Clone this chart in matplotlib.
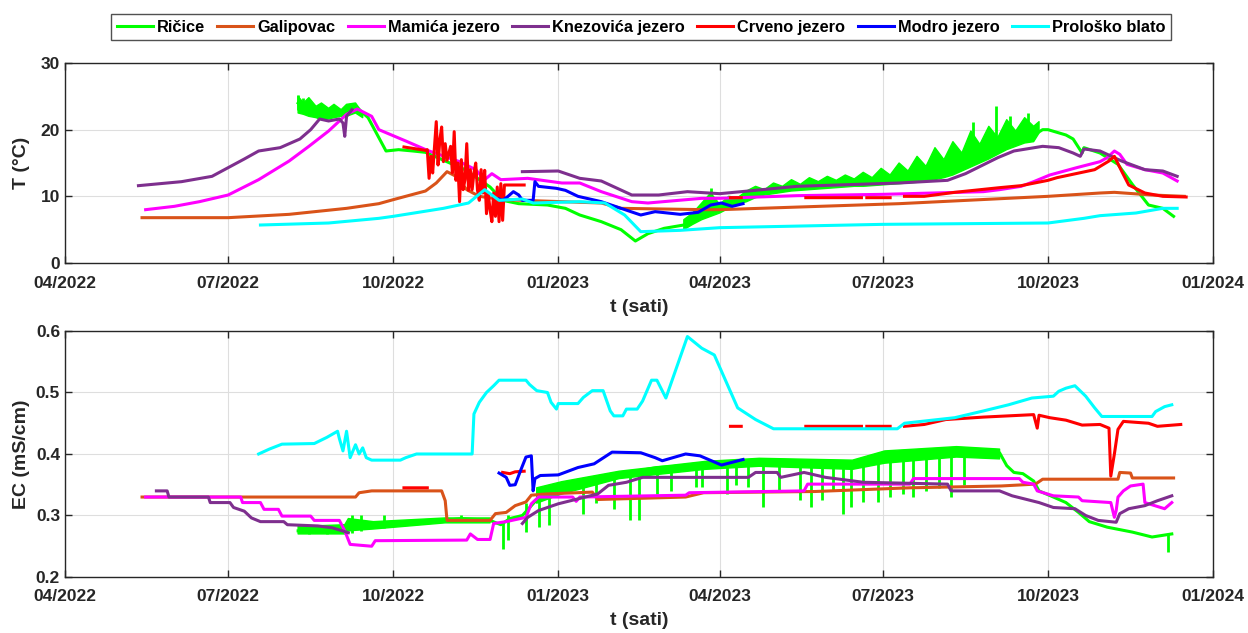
import numpy as np
import matplotlib.pyplot as plt
import matplotlib.dates as mdates

plt.rcParams['font.family'] = ['Liberation Sans', 'DejaVu Sans']
plt.rcParams['font.weight'] = 'bold'

nan = np.nan

names = ['Ričice', 'Galipovac', 'Mamića jezero', 'Knezovića jezero',
         'Crveno jezero', 'Modro jezero', 'Prološko blato']
colors = ['#00ff00', '#d95319', '#ff00ff', '#7e2f8e', '#ff0000', '#0000ff', '#00ffff']

# ---------------- temperature T (°C) ----------------
ricice_T_t = ['2022-08-09', '2022-08-15', '2022-08-25', '2022-09-05', '2022-09-10', '2022-09-17',
              '2022-09-27', '2022-10-04', '2022-10-12', '2022-10-19', '2022-11-10', '2022-11-24',
              '2022-12-01', '2022-12-10', '2022-12-26', '2023-01-05', '2023-01-13', '2023-01-25',
              '2023-02-05', '2023-02-13', '2023-02-20', '2023-03-01', '2023-03-12', '2023-03-27',
              '2023-04-13', '2023-04-23', '2023-05-14', '2023-06-10', '2023-07-01', '2023-07-15',
              '2023-08-01', '2023-08-16', '2023-09-05', '2023-09-16', '2023-09-25', '2023-09-28',
              '2023-10-01', '2023-10-11', '2023-10-15', '2023-10-20', '2023-10-21', '2023-10-30',
              '2023-11-09', '2023-11-17', '2023-11-26', '2023-12-04', '2023-12-10']
ricice_T = [24.0, 23.0, 22.5, 22.8, 23.5, 21.8,
            16.8, 17.0, 16.8, 16.6, 14.0, 11.4,
            9.4, 8.9, 8.7, 8.2, 7.2, 6.2,
            5.0, 3.3, 4.4, 5.2, 5.7, 8.2,
            9.5, 10.5, 11.3, 11.8, 12.2, 12.5,
            13.5, 15.0, 18.0, 19.0, 19.5, 20.0,
            20.0, 19.2, 18.6, 16.5, 17.3, 16.5,
            14.8, 11.8, 8.7, 8.2, 7.0]
# noisy band of the Ričice logger (lower / upper envelope)
ricice_band_t = ['2022-08-09', '2022-08-12', '2022-08-15', '2022-08-19', '2022-08-22', '2022-08-26',
                 '2022-08-29', '2022-09-02', '2022-09-05', '2022-09-10', '2022-09-14', '2022-12-01',
                 '2023-03-12', '2023-03-17', '2023-03-22', '2023-03-27', '2023-04-01', '2023-04-06',
                 '2023-04-11', '2023-04-16', '2023-04-21', '2023-04-26', '2023-05-01', '2023-05-06',
                 '2023-05-11', '2023-05-16', '2023-05-21', '2023-05-26', '2023-05-31', '2023-06-05',
                 '2023-06-10', '2023-06-15', '2023-06-20', '2023-06-25', '2023-06-30', '2023-07-05',
                 '2023-07-10', '2023-07-15', '2023-07-20', '2023-07-25', '2023-07-30', '2023-08-04',
                 '2023-08-09', '2023-08-14', '2023-08-19', '2023-08-24', '2023-08-29', '2023-09-03',
                 '2023-09-08', '2023-09-13', '2023-09-18', '2023-09-23', '2023-09-26']
ricice_band_lo = [22.5, 22.3, 22.0, 21.8, 21.5, 21.6, 21.8, 22.0, 22.0, 22.5, 21.8, nan,
                  5.0, 5.8, 6.5, 7.0, 7.5, 8.2, 8.8, 9.2, 9.8, 10.2, 10.4, 10.6,
                  10.8, 10.9, 11.0, 11.1, 11.2, 11.3, 11.4, 11.5, 11.5, 11.6, 11.7, 11.8,
                  11.9, 12.0, 12.1, 12.3, 12.5, 12.8, 13.2, 13.8, 14.4, 15.0, 15.6, 16.3,
                  17.0, 17.5, 18.0, 18.2, 19.5]
ricice_band_hi = [25.0, 24.0, 24.8, 23.5, 24.0, 23.2, 23.8, 23.0, 23.8, 24.0, 22.5, nan,
                  6.5, 7.5, 9.0, 10.5, 8.8, 10.0, 9.8, 10.8, 11.5, 11.0, 12.0, 11.5,
                  12.5, 11.8, 12.8, 12.2, 13.0, 12.4, 13.2, 12.6, 13.6, 12.8, 14.2, 13.2,
                  15.0, 13.8, 16.0, 14.5, 17.3, 15.5, 18.2, 16.5, 19.8, 17.8, 20.5, 18.8,
                  21.5, 19.8, 21.8, 20.5, 21.2]
ricice_spk_t = ['2022-08-09', '2022-08-12', '2023-03-27', '2023-08-20', '2023-09-02', '2023-09-10', '2023-09-20']
ricice_spk_lo = [23.0, 22.5, 8.0, 17.0, 18.0, 19.0, 19.5]
ricice_spk_hi = [25.2, 24.8, 11.2, 21.2, 23.5, 22.0, 22.5]

galipovac_T_t = ['2022-05-14', '2022-07-01', '2022-08-04', '2022-09-05', '2022-09-23', '2022-10-01',
                 '2022-10-19', '2022-10-25', '2022-10-31', '2022-11-05', '2022-11-11', '2022-11-18',
                 '2022-12-01', '2023-01-03', '2023-01-25', '2023-02-05', '2023-03-24', '2023-04-01',
                 '2023-07-10', '2023-10-01', '2023-10-30', '2023-11-07', '2023-11-28', '2023-12-16']
galipovac_T = [6.8, 6.8, 7.3, 8.2, 8.9, 9.5,
               10.8, 12.0, 13.7, 13.0, 11.0, 10.0,
               9.5, 9.2, 9.0, 8.2, 8.0, 8.0,
               8.9, 10.0, 10.5, 10.6, 10.2, 10.0]

mamica_T_t = ['2022-05-16', '2022-06-01', '2022-06-15', '2022-07-01', '2022-07-18', '2022-08-04',
              '2022-08-15', '2022-08-26', '2022-09-05', '2022-09-11', '2022-09-19', '2022-09-23',
              '2022-10-08', '2022-10-20', '2022-11-07', '2022-11-16', '2022-11-21', '2022-11-25',
              '2022-11-30', '2022-12-15', '2023-01-03', '2023-01-13', '2023-01-25', '2023-02-11',
              '2023-02-20', '2023-03-22', '2023-04-01', '2023-05-14', '2023-07-01', '2023-08-26',
              '2023-09-04', '2023-09-16', '2023-09-23', '2023-10-02', '2023-10-17', '2023-10-30',
              '2023-11-03', '2023-11-07', '2023-11-10', '2023-11-14', '2023-11-24', '2023-12-04',
              '2023-12-12']
mamica_T = [8.0, 8.5, 9.2, 10.2, 12.5, 15.3,
            17.5, 19.8, 22.3, 23.1, 22.0, 20.0,
            18.3, 16.9, 15.2, 14.0, 12.5, 13.4,
            12.5, 12.7, 12.0, 12.0, 10.7, 9.2,
            9.0, 9.7, 9.7, 10.1, 10.3, 10.7,
            11.0, 11.5, 12.2, 13.2, 14.3, 15.2,
            15.8, 16.8, 16.3, 14.8, 14.0, 13.5,
            12.3]

knez_T_t = ['2022-05-12', '2022-06-05', '2022-06-22', '2022-07-01', '2022-07-10', '2022-07-18',
            '2022-07-30', '2022-08-10', '2022-08-16', '2022-08-21', '2022-08-26', '2022-09-01',
            '2022-09-03', '2022-09-04', '2022-09-05', '2022-09-08', '2022-10-15', '2022-12-12',
            '2023-01-01', '2023-01-13', '2023-01-25', '2023-02-11', '2023-02-26', '2023-03-14',
            '2023-04-01', '2023-04-13', '2023-05-14', '2023-07-10', '2023-08-06', '2023-08-16',
            '2023-08-25', '2023-09-03', '2023-09-12', '2023-09-28', '2023-10-07', '2023-10-15',
            '2023-10-19', '2023-10-21', '2023-10-30', '2023-11-11', '2023-11-24', '2023-12-04',
            '2023-12-12']
knez_T = [11.6, 12.2, 13.0, 14.3, 15.6, 16.8,
          17.3, 18.6, 20.0, 21.6, 21.3, 21.6,
          21.0, 19.0, 22.0, 23.0, nan, 13.7,
          13.8, 12.7, 12.3, 10.2, 10.2, 10.7,
          10.4, 10.7, 11.5, 12.0, 12.4, 13.4,
          14.6, 15.8, 16.8, 17.5, 17.3, 16.5,
          16.0, 17.1, 16.8, 15.3, 14.0, 13.8,
          13.0]

crveno_T_t = ['2022-10-07', '2022-10-19', '2022-10-20', '2022-10-21', '2022-10-22', '2022-10-23',
              '2022-10-25', '2022-10-26', '2022-10-27', '2022-10-28', '2022-10-29', '2022-10-30',
              '2022-10-31', '2022-11-02', '2022-11-03', '2022-11-04', '2022-11-05', '2022-11-06',
              '2022-11-07', '2022-11-08', '2022-11-09', '2022-11-10', '2022-11-11', '2022-11-12',
              '2022-11-13', '2022-11-14', '2022-11-15', '2022-11-16', '2022-11-17', '2022-11-18',
              '2022-11-19', '2022-11-20', '2022-11-21', '2022-11-22', '2022-11-23', '2022-11-24',
              '2022-11-25', '2022-11-26', '2022-11-27', '2022-11-28', '2022-11-29', '2022-11-30',
              '2022-12-01', '2022-12-02', '2022-12-13', '2023-02-01',
              '2023-04-07', '2023-04-13', '2023-05-01', '2023-05-19', '2023-06-19', '2023-06-20',
              '2023-06-22', '2023-07-05', '2023-07-09', '2023-07-13', '2023-07-24', '2023-08-10',
              '2023-09-04', '2023-09-16', '2023-10-01', '2023-10-06', '2023-10-27', '2023-11-04',
              '2023-11-07', '2023-11-11', '2023-11-15', '2023-11-24', '2023-12-04', '2023-12-17']
crveno_T = [17.4, 16.9, 17.0, 12.7, 16.0, 13.5,
            21.2, 14.7, 18.5, 20.4, 15.2, 17.9,
            15.4, 17.5, 13.5, 19.7, 12.4, 15.0,
            9.2, 15.5, 11.0, 12.5, 17.9, 10.9,
            14.0, 11.0, 13.5, 15.0, 10.9, 9.4,
            14.0, 10.5, 13.9, 7.4, 10.4, 8.0,
            6.2, 10.5, 7.0, 11.4, 6.2, 11.9,
            6.4, 11.7, 11.7, nan,
            9.8, 9.8, nan, 9.8, 9.8, nan,
            9.8, 9.8, nan, 10.0, 10.0, 10.6,
            11.3, 11.6, 12.4, 12.8, 14.0, 15.3,
            16.0, 13.8, 11.7, 10.5, 10.0, 9.9]

modro_T_t = ['2022-11-29', '2022-12-01', '2022-12-04', '2022-12-07', '2022-12-10', '2022-12-12',
             '2022-12-18', '2022-12-19', '2022-12-21', '2022-12-31', '2023-01-05', '2023-01-12',
             '2023-01-25', '2023-02-05', '2023-02-16', '2023-02-24', '2023-03-10', '2023-03-20',
             '2023-03-27', '2023-04-02', '2023-04-08', '2023-04-14']
modro_T = [9.6, 9.4, 10.0, 10.7, 10.2, 9.4,
           9.4, 12.2, 11.5, 11.2, 10.9, 10.0,
           9.2, 8.2, 7.2, 7.7, 7.3, 7.6,
           8.7, 9.0, 8.5, 8.9]

prolosko_T_t = ['2022-07-19', '2022-08-26', '2022-09-23', '2022-10-01', '2022-10-29', '2022-11-12',
                '2022-11-21', '2022-11-29', '2022-12-12', '2022-12-18', '2023-01-13', '2023-01-27',
                '2023-02-07', '2023-02-16', '2023-03-10', '2023-04-01', '2023-07-01', '2023-10-01',
                '2023-10-21', '2023-10-30', '2023-11-19', '2023-12-04', '2023-12-12']
prolosko_T = [5.7, 6.0, 6.7, 7.0, 8.2, 9.0,
              11.0, 9.4, 9.6, 9.0, 9.2, 9.0,
              7.2, 4.7, 4.9, 5.3, 5.8, 6.0,
              6.7, 7.1, 7.5, 8.2, 8.2]

# ---------------- conductivity EC (mS/cm) ----------------
ricice_EC_t = ['2022-08-09', '2022-09-04', '2022-09-06', '2022-09-20', '2022-10-05', '2022-10-30',
               '2022-11-08', '2022-11-24', '2022-11-30', '2022-12-05', '2022-12-12', '2022-12-23',
               '2023-01-03', '2023-01-13', '2023-02-04', '2023-02-25', '2023-03-24', '2023-04-02',
               '2023-04-23', '2023-05-14', '2023-06-14', '2023-07-02', '2023-07-25', '2023-08-11',
               '2023-08-26', '2023-09-04', '2023-09-08', '2023-09-12', '2023-09-17', '2023-09-23',
               '2023-09-26', '2023-10-04', '2023-10-11', '2023-10-18', '2023-10-24', '2023-11-03',
               '2023-11-17', '2023-11-28', '2023-12-09']
ricice_EC = [0.275, 0.275, 0.285, 0.283, 0.287, 0.292,
             0.295, 0.292, 0.285, 0.295, 0.300, 0.335,
             0.345, 0.356, 0.367, 0.378, 0.383, 0.386,
             0.389, 0.383, 0.383, 0.395, 0.400, 0.405,
             0.400, 0.402, 0.381, 0.370, 0.368, 0.356,
             0.340, 0.330, 0.321, 0.305, 0.290, 0.281,
             0.273, 0.265, 0.270]
ricice_EC_band_t = ['2022-08-09', '2022-09-04', '2022-09-06', '2022-09-20', '2022-10-30', '2022-11-24',
                    '2022-11-30', '2022-12-20', '2023-01-03', '2023-02-04', '2023-03-24', '2023-04-23',
                    '2023-06-14', '2023-07-02', '2023-08-11', '2023-09-04', '2023-09-06']
ricice_EC_band_lo = [0.270, 0.270, 0.275, 0.278, 0.288, 0.288,
                     nan, 0.320, 0.335, 0.360, 0.375, 0.380,
                     0.375, 0.385, 0.395, 0.392, nan]
ricice_EC_band_hi = [0.282, 0.285, 0.295, 0.290, 0.296, 0.296,
                     nan, 0.345, 0.355, 0.372, 0.388, 0.393,
                     0.390, 0.405, 0.412, 0.408, nan]
ricice_EC_spk_t = ['2022-08-15', '2022-08-25', '2022-09-08', '2022-09-13', '2022-09-26', '2022-11-08',
                   '2022-12-01', '2022-12-04', '2022-12-14', '2022-12-21', '2022-12-27', '2023-01-15',
                   '2023-01-22', '2023-02-01', '2023-02-10', '2023-02-15', '2023-02-25', '2023-03-05',
                   '2023-03-19', '2023-03-22', '2023-04-05', '2023-04-10', '2023-04-17', '2023-04-25',
                   '2023-05-04', '2023-05-16', '2023-05-22', '2023-05-28', '2023-06-03', '2023-06-09',
                   '2023-06-13', '2023-06-20', '2023-06-28', '2023-07-05', '2023-07-12', '2023-07-18',
                   '2023-07-25', '2023-08-01', '2023-08-08', '2023-08-15', '2023-12-07']
ricice_EC_spk_lo = [0.270, 0.270, 0.272, 0.275, 0.280, 0.290,
                    0.246, 0.260, 0.273, 0.281, 0.285, 0.303,
                    0.320, 0.310, 0.292, 0.293, 0.335, 0.340,
                    0.346, 0.346, 0.335, 0.350, 0.346, 0.314,
                    0.340, 0.325, 0.314, 0.325, 0.340, 0.303,
                    0.314, 0.322, 0.322, 0.330, 0.335, 0.330,
                    0.340, 0.345, 0.330, 0.350, 0.241]
ricice_EC_spk_hi = [0.285, 0.285, 0.300, 0.300, 0.300, 0.300,
                    0.290, 0.300, 0.320, 0.335, 0.340, 0.355,
                    0.360, 0.365, 0.370, 0.370, 0.378, 0.380,
                    0.383, 0.383, 0.386, 0.388, 0.389, 0.389,
                    0.388, 0.385, 0.385, 0.385, 0.385, 0.385,
                    0.385, 0.385, 0.390, 0.400, 0.400, 0.400,
                    0.405, 0.410, 0.410, 0.410, 0.270]

galipovac_EC_t = ['2022-05-14', '2022-09-10', '2022-09-12', '2022-09-19', '2022-10-28', '2022-10-30',
                  '2022-10-31', '2022-11-24', '2022-11-27', '2022-12-03', '2022-12-08', '2022-12-14',
                  '2022-12-17', '2022-12-25', '2023-01-20', '2023-01-23', '2023-03-13', '2023-03-23',
                  '2023-05-24', '2023-07-16', '2023-09-05', '2023-09-24', '2023-09-28', '2023-11-09',
                  '2023-11-10', '2023-11-16', '2023-11-17', '2023-12-10']
galipovac_EC = [0.330, 0.330, 0.337, 0.340, 0.340, 0.324,
                0.292, 0.292, 0.303, 0.305, 0.316, 0.322,
                0.333, 0.335, 0.338, 0.326, 0.330, 0.337,
                0.339, 0.345, 0.348, 0.351, 0.359, 0.359,
                0.370, 0.369, 0.361, 0.361]

mamica_EC_t = ['2022-05-16', '2022-07-08', '2022-07-09', '2022-07-19', '2022-07-21', '2022-07-29',
               '2022-07-31', '2022-08-16', '2022-08-18', '2022-09-01', '2022-09-04', '2022-09-07',
               '2022-09-19', '2022-09-21', '2022-11-11', '2022-11-13', '2022-11-17', '2022-11-24',
               '2022-11-26', '2022-12-03', '2022-12-14', '2022-12-17', '2022-12-21', '2023-01-09',
               '2023-01-11', '2023-01-13', '2023-03-13', '2023-03-15', '2023-05-18', '2023-05-20',
               '2023-07-16', '2023-07-18', '2023-09-15', '2023-09-17', '2023-09-23', '2023-09-25',
               '2023-10-04', '2023-10-18', '2023-10-20', '2023-11-05', '2023-11-07', '2023-11-08',
               '2023-11-09', '2023-11-12', '2023-11-16', '2023-11-23', '2023-11-24', '2023-12-05',
               '2023-12-09']
mamica_EC = [0.330, 0.330, 0.321, 0.321, 0.310, 0.310,
             0.299, 0.299, 0.292, 0.292, 0.275, 0.253,
             0.250, 0.259, 0.260, 0.270, 0.261, 0.261,
             0.287, 0.290, 0.297, 0.319, 0.330, 0.330,
             0.323, 0.330, 0.333, 0.337, 0.340, 0.351,
             0.351, 0.360, 0.360, 0.354, 0.351, 0.340,
             0.332, 0.330, 0.324, 0.321, 0.297, 0.308,
             0.330, 0.340, 0.348, 0.351, 0.321, 0.311,
             0.321]

knez_EC_t = ['2022-05-22', '2022-05-28', '2022-05-29', '2022-06-20', '2022-06-21', '2022-07-02',
             '2022-07-04', '2022-07-10', '2022-07-14', '2022-07-19', '2022-08-01', '2022-08-03',
             '2022-08-20', '2022-08-28', '2022-09-06', '2022-10-15', '2022-12-12', '2022-12-15',
             '2022-12-21', '2023-01-01', '2023-01-12', '2023-01-23', '2023-01-29', '2023-02-08',
             '2023-02-17', '2023-04-17', '2023-04-21', '2023-05-03', '2023-05-05', '2023-05-18',
             '2023-05-30', '2023-06-20', '2023-08-06', '2023-08-08', '2023-09-04', '2023-09-11',
             '2023-09-26', '2023-10-04', '2023-10-16', '2023-10-22', '2023-10-29', '2023-11-08',
             '2023-11-10', '2023-11-15', '2023-11-24', '2023-12-01', '2023-12-09']
knez_EC = [0.340, 0.340, 0.330, 0.330, 0.321, 0.321,
           0.313, 0.307, 0.296, 0.290, 0.290, 0.285,
           0.283, 0.280, 0.272, nan, 0.287, 0.297,
           0.308, 0.319, 0.327, 0.335, 0.349, 0.354,
           0.362, 0.362, 0.370, 0.370, 0.362, 0.370,
           0.362, 0.354, 0.351, 0.340, 0.340, 0.332,
           0.321, 0.313, 0.311, 0.300, 0.292, 0.289,
           0.303, 0.311, 0.316, 0.324, 0.332]

crveno_EC_t = ['2022-10-07', '2022-10-20', '2022-11-10', '2022-12-01', '2022-12-05', '2022-12-08',
               '2022-12-13', '2023-02-01', '2023-04-07', '2023-04-13', '2023-05-01', '2023-05-19',
               '2023-06-19', '2023-06-20', '2023-06-22', '2023-07-05', '2023-07-09', '2023-07-13',
               '2023-07-24', '2023-08-05', '2023-08-26', '2023-09-16', '2023-09-23', '2023-09-25',
               '2023-09-26', '2023-10-02', '2023-10-11', '2023-10-20', '2023-10-30', '2023-11-04',
               '2023-11-05', '2023-11-07', '2023-11-09', '2023-11-12', '2023-11-26', '2023-12-01',
               '2023-12-14']
crveno_EC = [0.345, 0.345, nan, 0.370, 0.368, 0.371,
             0.372, nan, 0.445, 0.445, nan, 0.445,
             0.445, nan, 0.445, 0.445, nan, 0.445,
             0.448, 0.456, 0.460, 0.463, 0.464, 0.442,
             0.463, 0.459, 0.455, 0.447, 0.448, 0.442,
             0.364, 0.400, 0.440, 0.453, 0.450, 0.445,
             0.448]

modro_EC_t = ['2022-11-29', '2022-12-03', '2022-12-05', '2022-12-08', '2022-12-11', '2022-12-14',
              '2022-12-17', '2022-12-18', '2022-12-19', '2022-12-22', '2023-01-01', '2023-01-12',
              '2023-01-21', '2023-01-31', '2023-02-16', '2023-02-24', '2023-02-28', '2023-03-13',
              '2023-03-21', '2023-04-02', '2023-04-14']
modro_EC = [0.369, 0.362, 0.349, 0.350, 0.373, 0.395,
            0.397, 0.340, 0.360, 0.365, 0.366, 0.378,
            0.384, 0.403, 0.402, 0.394, 0.389, 0.400,
            0.397, 0.382, 0.391]

prolosko_EC_t = ['2022-07-18', '2022-07-24', '2022-07-31', '2022-08-18', '2022-08-25', '2022-08-31',
                 '2022-09-01', '2022-09-03', '2022-09-05', '2022-09-07', '2022-09-10', '2022-09-12',
                 '2022-09-14', '2022-09-16', '2022-09-19', '2022-10-05', '2022-10-08', '2022-10-14',
                 '2022-11-14', '2022-11-15', '2022-11-18', '2022-11-22', '2022-11-26', '2022-11-29',
                 '2022-12-14', '2022-12-16', '2022-12-20', '2022-12-26', '2022-12-28', '2022-12-31',
                 '2023-01-01', '2023-01-12', '2023-01-15', '2023-01-20', '2023-01-26', '2023-01-30',
                 '2023-02-01', '2023-02-06', '2023-02-08', '2023-02-14', '2023-02-17', '2023-02-22',
                 '2023-02-25', '2023-03-02', '2023-03-14', '2023-03-22', '2023-03-29', '2023-04-11',
                 '2023-04-21', '2023-05-01', '2023-07-09', '2023-07-13', '2023-08-10', '2023-08-26',
                 '2023-09-09', '2023-09-22', '2023-10-04', '2023-10-07', '2023-10-11', '2023-10-16',
                 '2023-10-22', '2023-10-27', '2023-10-31', '2023-11-28', '2023-11-30', '2023-12-05',
                 '2023-12-09']
prolosko_EC = [0.400, 0.408, 0.416, 0.417, 0.427, 0.437,
               0.425, 0.405, 0.437, 0.394, 0.415, 0.400,
               0.410, 0.394, 0.390, 0.390, 0.394, 0.400,
               0.400, 0.465, 0.484, 0.500, 0.511, 0.520,
               0.520, 0.513, 0.503, 0.500, 0.484, 0.473,
               0.482, 0.482, 0.492, 0.503, 0.503, 0.470,
               0.462, 0.462, 0.473, 0.473, 0.486, 0.520,
               0.520, 0.491, 0.591, 0.572, 0.561, 0.475,
               0.456, 0.441, 0.441, 0.450, 0.459, 0.470,
               0.480, 0.491, 0.494, 0.502, 0.507, 0.511,
               0.494, 0.475, 0.461, 0.461, 0.469, 0.477,
               0.480]

T_series = [(ricice_T_t, ricice_T), (galipovac_T_t, galipovac_T), (mamica_T_t, mamica_T),
            (knez_T_t, knez_T), (crveno_T_t, crveno_T), (modro_T_t, modro_T),
            (prolosko_T_t, prolosko_T)]
EC_series = [(ricice_EC_t, ricice_EC), (galipovac_EC_t, galipovac_EC), (mamica_EC_t, mamica_EC),
             (knez_EC_t, knez_EC), (crveno_EC_t, crveno_EC), (modro_EC_t, modro_EC),
             (prolosko_EC_t, prolosko_EC)]


def dt(lst):
    return np.array(lst, dtype='datetime64[D]')


fig = plt.figure(figsize=(12.48, 6.33), dpi=100)
ax1 = fig.add_axes([0.052, 0.5845, 0.920, 0.316])
ax2 = fig.add_axes([0.052, 0.0885, 0.920, 0.3886])

lw = 2.2
handles = []
for i, (t, v) in enumerate(T_series):
    h, = ax1.plot(dt(t), v, color=colors[i], lw=lw, zorder=2 + i * 0.01, label=names[i])
    handles.append(h)
ax1.fill_between(dt(ricice_band_t), ricice_band_lo, ricice_band_hi,
                 color=colors[0], lw=1.0, edgecolor=colors[0], zorder=2)
ax1.vlines(dt(ricice_spk_t), ricice_spk_lo, ricice_spk_hi, color=colors[0], lw=2, zorder=2)

for i, (t, v) in enumerate(EC_series):
    ax2.plot(dt(t), v, color=colors[i], lw=lw, zorder=2 + i * 0.01)
ax2.fill_between(dt(ricice_EC_band_t), ricice_EC_band_lo, ricice_EC_band_hi,
                 color=colors[0], lw=1.0, edgecolor=colors[0], zorder=2)
ax2.vlines(dt(ricice_EC_spk_t), ricice_EC_spk_lo, ricice_EC_spk_hi, color=colors[0], lw=2, zorder=2)

for ax in (ax1, ax2):
    ax.set_xlim(np.datetime64('2022-04-01'), np.datetime64('2024-01-01'))
    ax.xaxis.set_major_locator(mdates.MonthLocator(bymonth=[1, 4, 7, 10]))
    ax.xaxis.set_major_formatter(mdates.DateFormatter('%m/%Y'))
    ax.grid(True, color='#dedede', lw=0.8)
    ax.set_axisbelow(True)
    ax.tick_params(direction='in', length=5, width=1, color='#262626', labelsize=12.5,
                   top=True, right=True, labelcolor='#262626')
    ax.tick_params(axis='x', pad=9)
    for s in ax.spines.values():
        s.set_color('#262626')
        s.set_linewidth(1)
    ax.set_xlabel('t (sati)', fontsize=14, fontweight='bold', color='#262626')

ax1.set_ylim(0, 30)
ax1.set_yticks([0, 10, 20, 30])
ax2.set_ylim(0.2, 0.6)
ax2.set_yticks([0.2, 0.3, 0.4, 0.5, 0.6])
ax1.set_ylabel('T (°C)', fontsize=14, fontweight='bold', color='#262626')
ax2.set_ylabel('EC (mS/cm)', fontsize=14, fontweight='bold', color='#262626')
ax1.yaxis.set_label_coords(-0.030, 0.5)
ax2.yaxis.set_label_coords(-0.030, 0.5)
ax1.xaxis.set_label_coords(0.5, -0.18)
ax2.xaxis.set_label_coords(0.5, -0.142)

leg = fig.legend(handles=handles, loc='center', bbox_to_anchor=(0.5136, 0.957), ncol=7,
                 fontsize=11.8, frameon=True, fancybox=False, edgecolor='#262626',
                 handlelength=2.2, handletextpad=0.25, columnspacing=0.75, borderpad=0.35)
leg.get_frame().set_linewidth(1)
for txt in leg.get_texts():
    txt.set_fontweight('bold')

fig.savefig('out.png', dpi=100)
